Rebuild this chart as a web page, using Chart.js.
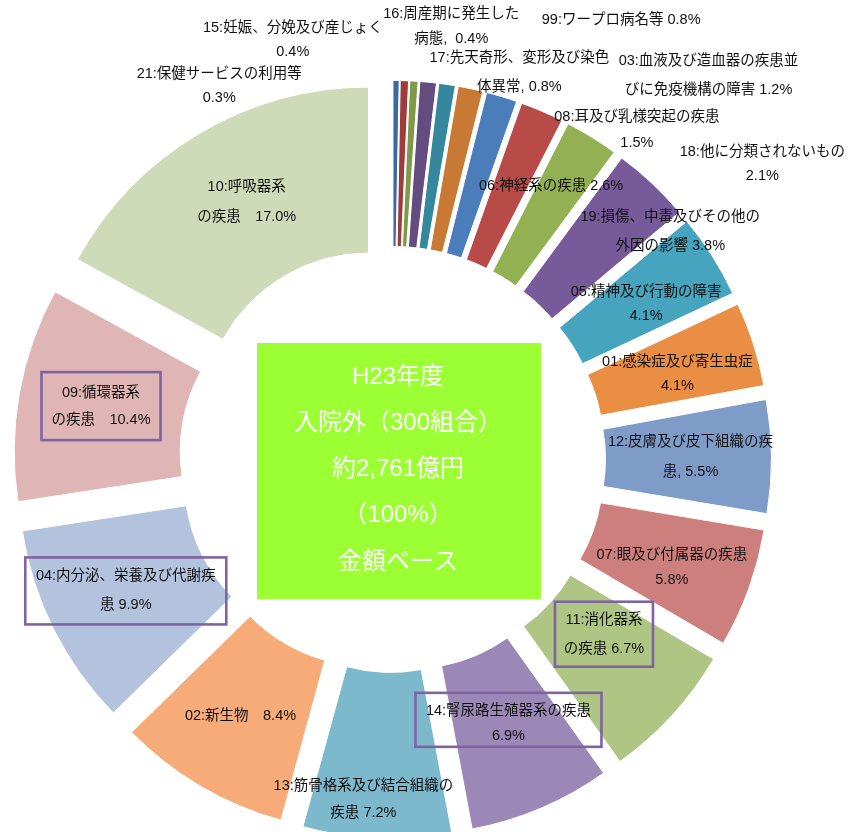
<!DOCTYPE html>
<html lang="ja">
<head>
<meta charset="utf-8">
<title>H23年度 入院外 疾病分類別構成比</title>
<script src="https://cdn.jsdelivr.net/npm/chart.js@4.4.1/dist/chart.umd.min.js"></script>
<style>
  html, body { margin: 0; padding: 0; background: #fff; }
  #wrap { width: 848px; height: 832px; }
</style>
</head>
<body>
<div id="wrap"><canvas id="share" width="848" height="832"></canvas></div>
<script>
// 疾病分類（構成比の小さい順）
const codes = ['21', '15', '16', '17', '99', '03', '08', '18', '06', '19', '05',
               '01', '12', '07', '11', '14', '13', '02', '04', '09', '10'];
const names = [
  '保健サービスの利用等', '妊娠、分娩及び産じょく', '周産期に発生した病態',
  '先天奇形、変形及び染色体異常', 'ワープロ病名等', '血液及び造血器の疾患並びに免疫機構の障害',
  '耳及び乳様突起の疾患', '他に分類されないもの', '神経系の疾患',
  '損傷、中毒及びその他の外因の影響', '精神及び行動の障害', '感染症及び寄生虫症',
  '皮膚及び皮下組織の疾患', '眼及び付属器の疾患', '消化器系の疾患',
  '腎尿路生殖器系の疾患', '筋骨格系及び結合組織の疾患', '新生物',
  '内分泌、栄養及び代謝疾患', '循環器系の疾患', '呼吸器系の疾患'
];
// 金額ベースの構成比 (%)
const shares = [0.3, 0.4, 0.4, 0.8, 0.8, 1.2, 1.5, 2.1, 2.6, 3.8, 4.1,
                4.1, 5.5, 5.8, 6.7, 6.9, 7.2, 8.4, 9.9, 10.4, 17.0];

const sliceColors = [
  '#3b69a0', '#9d3c3a', '#7e9a47', '#634c80', '#34879d', '#c87a35',
  '#4a7dba', '#b84a47', '#93b052', '#775a9a', '#47a4be', '#e98e43',
  '#7f9bc8', '#cd7f7d', '#aec583', '#9c88b6', '#7cb9cd', '#f7ab78',
  '#b4c3dd', '#dfb6b5', '#cfdbb8'
];

const centerLines = ['H23年度', '入院外（300組合）', '約2,761億円', '（100%）', '金額ベース'];

// 切り離し量(px)
const EXPLODE = 47;

// ラベル: cut = 1行目に入れる名称の文字数（未指定なら1行）、sep = 値の前の区切り
// dx, dy = 扇形の中心点からのずれ、gap = 行間、box = 枠 [幅, 高さ, 縦ずれ]
const labelLayout = [
  { cut: 10, sep: '', dx: -176, dy: -78, gap: 24 },
  { cut: 11, sep: '', dx: -109, dy: -124, gap: 24 },
  { cut: 8, sep: ',  ', dx: 42, dy: -137, gap: 25 },
  { cut: 11, sep: ', ', dx: 99, dy: -92, gap: 29 },
  { sep: ' ', dx: 186, dy: -147 },
  { cut: 11, sep: ' ', dx: 255, dy: -94, gap: 29 },
  { cut: 10, sep: '', dx: 159, dy: -46, gap: 26 },
  { cut: 10, sep: '', dx: 253, dy: -24, gap: 24 },
  { sep: ' ', dx: 3, dy: -22 },
  { cut: 11, sep: ' ', dx: 75, dy: -12, gap: 29 },
  { cut: 9, sep: '', dx: 4, dy: 4, gap: 24 },
  { cut: 9, sep: '', dx: 3, dy: 5, gap: 24 },
  { cut: 10, sep: ', ', dx: 2, dy: 0, gap: 30 },
  { cut: 9, sep: '', dx: 1, dy: 7, gap: 25 },
  { cut: 4, sep: ' ', dx: -7, dy: -25, gap: 29, box: [98, 65, 0] },
  { cut: 10, sep: '', dx: 0, dy: -8, gap: 25, box: [186, 54, -4] },
  { cut: 11, sep: ' ', dx: -17, dy: 44, gap: 27 },
  { sep: '\u3000', dx: -2, dy: 1 },
  { cut: 11, sep: ' ', dx: -2, dy: -1, gap: 29, box: [201, 67, 0] },
  { cut: 4, sep: '\u3000', dx: 0, dy: -2, gap: 27, box: [119, 68, 0] },
  { cut: 4, sep: '\u3000', dx: 5, dy: -3, gap: 30 }
];

const LABEL_FONT = '14.5px "Liberation Sans", "Noto Sans CJK JP", sans-serif';
const CENTER_FONT = '24px "Liberation Sans", "Noto Sans CJK JP", sans-serif';

function labelLines(i) {
  const L = labelLayout[i];
  const head = codes[i] + ':';
  const value = shares[i].toFixed(1) + '%';
  if (L.cut === undefined) return [head + names[i] + L.sep + value];
  const rest = names[i].slice(L.cut);
  return [head + names[i].slice(0, L.cut), rest + (rest ? L.sep : '') + value];
}

// 各扇形を中心角の二等分線方向へずらす
const explode = {
  id: 'explode',
  afterDatasetUpdate(chart, args) {
    args.meta.data.forEach(arc => {
      const mid = (arc.startAngle + arc.endAngle) / 2;
      arc.x += Math.cos(mid) * EXPLODE;
      arc.y += Math.sin(mid) * EXPLODE;
    });
  }
};

// 中央の説明パネル
const centerPanel = {
  id: 'centerPanel',
  afterDatasetsDraw(chart) {
    const { ctx, chartArea } = chart;
    const cx = (chartArea.left + chartArea.right) / 2;
    const cy = (chartArea.top + chartArea.bottom) / 2;
    ctx.save();
    ctx.fillStyle = '#9cff33';
    ctx.fillRect(cx + 6.5 - 142, cy + 11.5 - 128, 284, 256);
    ctx.fillStyle = '#ffffff';
    ctx.font = CENTER_FONT;
    ctx.textAlign = 'center';
    ctx.textBaseline = 'middle';
    const gap = 46.2;
    centerLines.forEach((t, k) => {
      ctx.fillText(t, cx + 5.5, cy + 10 + (k - 2) * gap);
    });
    ctx.restore();
  }
};

// 扇形ごとのデータラベル
const sliceLabels = {
  id: 'sliceLabels',
  afterDatasetsDraw(chart) {
    const { ctx } = chart;
    const arcs = chart.getDatasetMeta(0).data;
    ctx.save();
    ctx.font = LABEL_FONT;
    ctx.textAlign = 'center';
    ctx.textBaseline = 'middle';
    arcs.forEach((arc, i) => {
      const L = labelLayout[i];
      const p = arc.getCenterPoint();
      const x = p.x + L.dx;
      const y = p.y + L.dy;
      const lines = labelLines(i);
      const gap = L.gap || 0;
      ctx.fillStyle = '#111';
      lines.forEach((t, k) => {
        ctx.fillText(t, x, y + (k - (lines.length - 1) / 2) * gap);
      });
      if (L.box) {
        const [w, h, oy] = L.box;
        ctx.strokeStyle = '#8064a2';
        ctx.lineWidth = 2.6;
        ctx.strokeRect(x - w / 2, y + oy - h / 2, w, h);
      }
    });
    ctx.restore();
  }
};

new Chart(document.getElementById('share'), {
  type: 'doughnut',
  data: {
    labels: codes.map((c, i) => c + ':' + names[i]),
    datasets: [{
      data: shares,
      backgroundColor: sliceColors,
      borderColor: '#ffffff',
      borderWidth: 1,
      hoverOffset: 0
    }]
  },
  options: {
    responsive: false,
    animation: false,
    events: [],
    cutout: '50%',
    radius: 332,
    layout: { padding: { left: 60, top: 127, right: 123, bottom: 40 } },
    plugins: {
      legend: { display: false },
      tooltip: { enabled: false }
    }
  },
  plugins: [explode, centerPanel, sliceLabels]
});
</script>
</body>
</html>
